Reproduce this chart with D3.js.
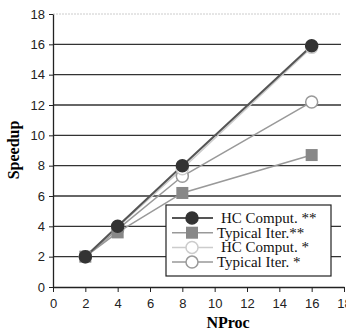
<!DOCTYPE html>
<html>
<head>
<meta charset="utf-8">
<script src="https://cdn.jsdelivr.net/npm/d3@7"></script>
<style>
  body { margin: 0; background: #fff; }
  svg { display: block; }
</style>
</head>
<body>
<div id="chart"></div>
<script>
// values
var nproc = [2, 4, 8, 16];
var hcComp2 = [2, 4.0, 8.0, 15.9];
var typIter2 = [2, 3.6, 6.2, 8.7];
var hcComp1 = [2, 3.95, 7.8, 15.8];
var typIter1 = [2, 3.8, 7.3, 12.2];
var seriesNames = ['HC Comput. **', 'Typical Iter.**', 'HC Comput. *', 'Typical Iter. *'];
var xTicks = [0, 2, 4, 6, 8, 10, 12, 14, 16, 18];
var yTicks = [0, 2, 4, 6, 8, 10, 12, 14, 16, 18];

var width = 346, height = 334;
var margin = { left: 53, right: 2, top: 14, bottom: 47 };

var svg = d3.select('#chart').append('svg')
    .attr('width', width)
    .attr('height', height);

var x = d3.scaleLinear().domain([0, 18]).range([margin.left, 344]);
var y = d3.scaleLinear().domain([0, 18]).range([287, margin.top]);

// gridlines
svg.append('g').selectAll('line')
    .data(yTicks.filter(function(d) { return d > 0; }))
    .enter().append('line')
    .attr('x1', x(0)).attr('x2', 341)
    .attr('y1', function(d) { return y(d); })
    .attr('y2', function(d) { return y(d); })
    .attr('stroke', function(d) { return d === 18 ? '#ccc' : '#333'; })
    .attr('stroke-width', function(d) { return d === 18 ? 1 : 1.3; })
    .attr('stroke-dasharray', function(d) { return d === 18 ? '2,1' : null; });

// axes
var xAxis = svg.append('g')
    .attr('transform', 'translate(0,' + y(0) + ')')
    .call(d3.axisBottom(x).tickValues(xTicks).tickSize(5).tickPadding(7).tickSizeOuter(0));
var yAxis = svg.append('g')
    .attr('transform', 'translate(' + x(0) + ',0)')
    .call(d3.axisLeft(y).tickValues(yTicks).tickSize(4).tickPadding(4).tickSizeOuter(0));

[xAxis, yAxis].forEach(function(a) {
    a.selectAll('path').attr('stroke', '#222').attr('stroke-width', 1.3);
    a.selectAll('line').attr('stroke', '#222');
    a.selectAll('text')
        .attr('fill', '#222')
        .style('font-family', '"Liberation Sans", Arial, sans-serif')
        .style('font-size', '13px');
});

// axis titles
svg.append('text')
    .attr('x', 228).attr('y', 328)
    .attr('text-anchor', 'middle')
    .style('font-family', '"Liberation Serif", "Times New Roman", serif')
    .style('font-weight', 'bold')
    .style('font-size', '16px')
    .text('NProc');
svg.append('text')
    .attr('transform', 'translate(19,150) rotate(-90)')
    .attr('text-anchor', 'middle')
    .style('font-family', '"Liberation Serif", "Times New Roman", serif')
    .style('font-weight', 'bold')
    .style('font-size', '16px')
    .text('Speedup');

var styles = [
    { values: hcComp2, line: '#555', lw: 2, marker: 'circle', fill: '#333', stroke: '#333' },
    { values: typIter2, line: '#999', lw: 1.5, marker: 'square', fill: '#888', stroke: '#888' },
    { values: hcComp1, line: '#ccc', lw: 1.5, marker: 'circle', fill: '#fff', stroke: '#ccc' },
    { values: typIter1, line: '#999', lw: 1.5, marker: 'circle', fill: '#fff', stroke: '#999' }
];

var line = d3.line()
    .x(function(d, i) { return x(nproc[i]); })
    .y(function(d) { return y(d); });

function drawMarker(g, s, cx, cy) {
    if (s.marker === 'square') {
        g.append('rect')
            .attr('x', cx - 6).attr('y', cy - 6)
            .attr('width', 12).attr('height', 12)
            .attr('fill', s.fill);
    } else {
        g.append('circle')
            .attr('cx', cx).attr('cy', cy).attr('r', 6)
            .attr('fill', s.fill)
            .attr('stroke', s.stroke)
            .attr('stroke-width', 1.5);
    }
}

// draw lines, bottom layer first
var order = [3, 2, 1, 0];
order.forEach(function(k) {
    var s = styles[k];
    svg.append('path')
        .datum(s.values)
        .attr('d', line)
        .attr('fill', 'none')
        .attr('stroke', s.line)
        .attr('stroke-width', s.lw);
});
order.forEach(function(k) {
    var s = styles[k];
    var g = svg.append('g');
    s.values.forEach(function(v, i) {
        drawMarker(g, s, x(nproc[i]), y(v));
    });
});

// legend
var legend = svg.append('g');
legend.append('rect')
    .attr('x', 166).attr('y', 205)
    .attr('width', 165).attr('height', 71)
    .attr('fill', '#fff')
    .attr('stroke', '#222')
    .attr('stroke-width', 1.2);

seriesNames.forEach(function(name, i) {
    var s = styles[i];
    var ly = 218 + i * 14.7;
    var g = legend.append('g');
    g.append('line')
        .attr('x1', 172).attr('x2', 213)
        .attr('y1', ly).attr('y2', ly)
        .attr('stroke', s.line)
        .attr('stroke-width', s.lw);
    drawMarker(g, { marker: s.marker, fill: s.fill, stroke: s.stroke }, 192, ly);
    g.append('text')
        .attr('x', i % 2 === 0 ? 221 : 217)
        .attr('y', ly + 5)
        .style('font-family', '"Liberation Serif", "Times New Roman", serif')
        .style('font-size', '15px')
        .attr('fill', '#111')
        .text(name);
});
</script>
</body>
</html>
